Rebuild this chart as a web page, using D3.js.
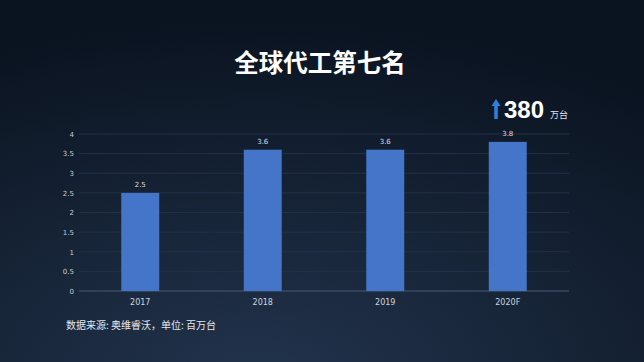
<!DOCTYPE html>
<html><head><meta charset="utf-8">
<script src="https://cdn.jsdelivr.net/npm/d3@7"></script>
<style>html,body{margin:0;padding:0;background:#0c1522;}svg{display:block;}</style>
</head><body>
<script>
const categories = ["2017", "2018", "2019", "2020F"];
const values = [2.5, 3.6, 3.6, 3.8];
const yTicks = [0, 0.5, 1, 1.5, 2, 2.5, 3, 3.5, 4];
const title = "全球代工第七名";
const highlight = "380";
const highlightUnit = "万台";
const source = "数据来源: 奥维睿沃，单位: 百万台";

const W = 644, H = 362;
const svg = d3.select("body").append("svg").attr("width", W).attr("height", H);
const defs = svg.append("defs");
const g1 = defs.append("radialGradient").attr("id","bg").attr("cx","0.4").attr("cy","1.05").attr("r","1.0");
g1.append("stop").attr("offset","0").attr("stop-color","#22334d");
g1.append("stop").attr("offset","0.45").attr("stop-color","#172538");
g1.append("stop").attr("offset","1").attr("stop-color","#0a1320");
svg.append("rect").attr("width",W).attr("height",H).attr("fill","url(#bg)");

const fontCJK = "'Noto Sans CJK SC','Noto Sans',sans-serif";
svg.append("text").attr("x",320).attr("y",72).attr("text-anchor","middle")
  .attr("fill","#ffffff").attr("font-size",24.5).attr("font-weight","bold")
  .attr("font-family",fontCJK).text(title);

const x = d3.scaleBand().domain(categories).range([79, 569]).paddingInner(0.69).paddingOuter(0.345);
const y = d3.scaleLinear().domain([0, 4]).range([291, 134]);

const grid = svg.append("g");
grid.selectAll("line").data(yTicks).join("line")
  .attr("x1",79).attr("x2",569).attr("y1",d=>y(d)).attr("y2",d=>y(d))
  .attr("stroke",d=>d===0?"#3a4a60":"#22304a").attr("stroke-width",d=>d===0?1.5:1);

const yAxis = svg.append("g").attr("transform","translate(74,0)")
  .call(d3.axisLeft(y).tickValues(yTicks).tickSize(0).tickPadding(0).tickFormat(d3.format("")));
yAxis.select(".domain").remove();
yAxis.selectAll("text").attr("fill","#c8ccd4").attr("font-size",7).attr("font-family","'DejaVu Sans',sans-serif");

svg.append("g").selectAll("rect").data(values).join("rect")
  .attr("x",(d,i)=>x(categories[i])).attr("width",x.bandwidth())
  .attr("y",d=>y(d)).attr("height",d=>y(0)-y(d)).attr("fill","#4575c8");

svg.append("g").selectAll("text").data(values).join("text")
  .attr("x",(d,i)=>x(categories[i])+x.bandwidth()/2).attr("y",d=>y(d)-6)
  .attr("text-anchor","middle").attr("fill","#d8dce4").attr("font-size",7)
  .attr("font-family","'DejaVu Sans',sans-serif").text(d=>d);

const xAxis = svg.append("g").attr("transform","translate(0,291)")
  .call(d3.axisBottom(x).tickSize(0).tickPadding(8));
xAxis.select(".domain").remove();
xAxis.selectAll("text").attr("fill","#d0d4dc").attr("font-size",8).attr("font-family","'DejaVu Sans',sans-serif");

// highlight
const hx = 496, hy = 117;
svg.append("path").attr("d",`M${hx-4.5},${hy-11} L${hx},${hy-18} L${hx+4.5},${hy-11} L${hx+1.8},${hy-11} L${hx+1.8},${hy+2} L${hx-1.8},${hy+2} L${hx-1.8},${hy-11} Z`)
  .attr("fill","#2f7fe0");
svg.append("text").attr("x",504).attr("y",118).attr("fill","#ffffff").attr("font-size",24)
  .attr("font-weight","bold").attr("font-family","'Liberation Sans',Arial,sans-serif").text(highlight);
svg.append("text").attr("x",550).attr("y",118).attr("fill","#e0e4ea").attr("font-size",9)
  .attr("font-family",fontCJK).text(highlightUnit);

svg.append("text").attr("x",66).attr("y",329).attr("fill","#e4e8ee").attr("font-size",10)
  .attr("font-family",fontCJK).text(source);
</script>
</body></html>
